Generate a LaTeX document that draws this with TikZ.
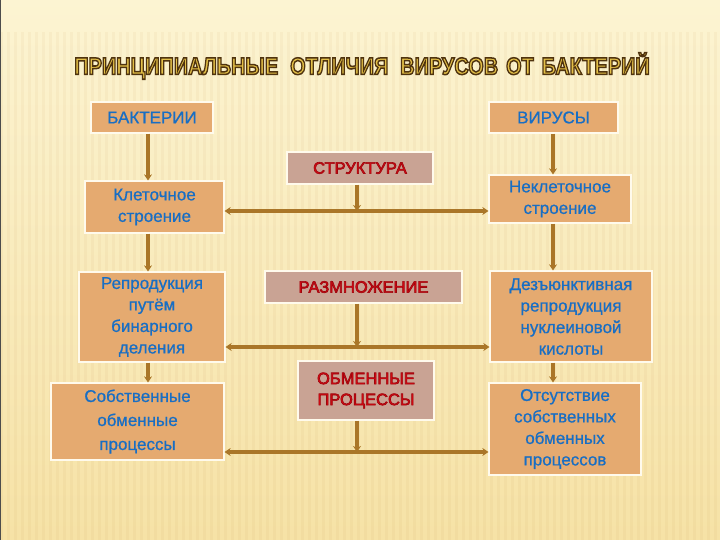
\documentclass[tikz,border=0pt]{standalone}
\usepackage{fontspec}
\setmainfont{Liberation Sans}
\newfontfamily\boxfont{Liberation Sans}[FakeBold=0.8]
\usepackage{graphicx}
\usetikzlibrary{arrows.meta}
\definecolor{peach}{RGB}{229,170,112}
\definecolor{rose}{RGB}{201,163,148}
\definecolor{bluetxt}{RGB}{24,110,196}
\definecolor{redtxt}{RGB}{214,10,18}
\definecolor{linkc}{RGB}{170,118,40}
\definecolor{gold}{RGB}{228,192,72}
\definecolor{bgtop}{RGB}{252,244,210}
\definecolor{bgbot}{RGB}{246,226,166}
\definecolor{rim}{RGB}{255,250,236}
% outlined text: fill in the current colour, stroke in the given rgb
\newcommand{\outlined}[3]{\special{pdf:literal direct #1 RG #2 w 2 Tr}#3\special{pdf:literal direct 0 Tr}}
\newcommand{\redword}[1]{\outlined{0.62 0.02 0.05}{0.6}{#1}}
\tikzstyle{side}  = [rectangle,fill=peach,draw=rim,line width=1.2pt,inner sep=0pt,align=center,text=bluetxt,font=\fontsize{17}{21.5}\boxfont]
\tikzstyle{topic} = [rectangle,fill=rose,draw=rim,line width=1.2pt,inner sep=0pt,align=center,text=redtxt,font=\fontsize{16.5}{21}\selectfont]
\tikzstyle{flow}  = [draw=linkc,line width=3.4pt]

\begin{document}
\begin{tikzpicture}[x=1pt,y=-1pt,>={Stealth[length=6pt,width=8pt]}]
\useasboundingbox (0,0) rectangle (720,540);
% background
\shade[top color=bgtop,bottom color=bgbot] (0,0) rectangle (720,540);
\foreach \x in {0,7,...,720}
  \fill[brown,opacity=0.06] (\x,32) rectangle (\x+2.5,540);
\draw[black!70,line width=1pt] (0,0) rectangle (720,540);

\node[text=gold,font=\fontsize{24}{24}\bfseries] (title) at (362,66)
  {\scalebox{0.83}[1]{\outlined{0.31 0.2 0.06}{1.5}{ПРИНЦИПИАЛЬНЫЕ\hspace{0.6em}ОТЛИЧИЯ\hspace{0.6em}ВИРУСОВ\hspace{0.4em}ОТ\hspace{0.4em}БАКТЕРИЙ}}};

% columns
\coordinate (lcol) at (148,0);
\coordinate (ccol) at (357,0);
\coordinate (rcol) at (553,0);

\node[side,minimum width=122pt,minimum height=31pt] (bact) at (152,117.5) {БАКТЕРИИ};
\node[side,minimum width=129pt,minimum height=31pt] (vir) at (553.5,117.5) {ВИРУСЫ};

\node[side,minimum width=139pt,minimum height=52pt] (kletka) at (154.5,207) {Клеточное\\строение};
\node[side,minimum width=142pt,minimum height=48pt] (nekletka) at (560,199) {Неклеточное\\строение};
\node[side,minimum width=146pt,minimum height=90pt] (reprod) at (152,317) {Репродукция\\путём\\бинарного\\деления};
\node[side,minimum width=162pt,minimum height=91pt] (dezunk) at (571,316.5) {Дезъюнктивная\\репродукция\\нуклеиновой\\кислоты};
\node[side,minimum width=173pt,minimum height=77pt,font=\fontsize{17}{24}\boxfont] (sobstv) at (137.5,421.5) {Собственные\\обменные\\процессы};
\node[side,minimum width=152pt,minimum height=92pt] (otsut) at (565,429) {Отсутствие\\собственных\\обменных\\процессов};

\node[topic,minimum width=146pt,minimum height=32pt] (struct) at (360,168) {\redword{СТРУКТУРА}};
\node[topic,minimum width=197pt,minimum height=32pt] (razmn) at (363.5,287) {\redword{РАЗМНОЖЕНИЕ}};
\node[topic,minimum width=136pt,minimum height=59pt] (obmen) at (366,390.5) {\redword{ОБМЕННЫЕ}\\\redword{ПРОЦЕССЫ}};

\coordinate (hub1) at (357,211);
\coordinate (hub2) at (357,347);
\coordinate (hub3) at (357,452);

% left and right chains
\draw[flow,->] (bact.south -| lcol) -- (kletka.north -| lcol);
\draw[flow,->] (kletka.south -| lcol) -- (reprod.north -| lcol);
\draw[flow,->] (reprod.south -| lcol) -- (sobstv.north -| lcol);
\draw[flow,->] (vir.south -| rcol) -- (nekletka.north -| rcol);
\draw[flow,->] (nekletka.south -| rcol) -- (dezunk.north -| rcol);
\draw[flow,->] (dezunk.south -| rcol) -- (otsut.north -| rcol);

% middle links
\draw[flow,<->] (kletka.east |- hub1) -- (nekletka.west |- hub1);
\draw[flow,->] (struct.south -| ccol) -- (hub1);
\draw[flow,<->] (reprod.east |- hub2) -- (dezunk.west |- hub2);
\draw[flow,->] (razmn.south -| ccol) -- (hub2);
\draw[flow,<->] (sobstv.east |- hub3) -- (otsut.west |- hub3);
\draw[flow,->] (obmen.south -| ccol) -- (hub3);
\end{tikzpicture}
\end{document}
